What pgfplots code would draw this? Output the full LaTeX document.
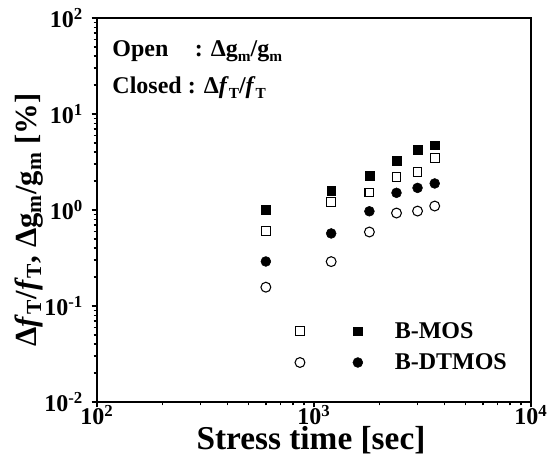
\documentclass[border=0pt]{standalone}
\usepackage{pgfplots}
\pgfplotsset{compat=1.18}
\usepackage{fontspec}
\setmainfont{Liberation Serif}
\newcommand{\sub}[1]{\raisebox{-0.45ex}{\fontsize{11.5}{12}\selectfont #1}}
\begin{document}
\begin{tikzpicture}
\begin{axis}[
  xmode=log, ymode=log,
  xmin=100, xmax=10000, ymin=0.01, ymax=100,
  scale only axis, width=325.5pt, height=288pt,
  axis line style={line width=1.6pt},
  tick align=outside, tick pos=left,
  major tick length=4pt, minor tick length=2.5pt,
  every tick/.style={line width=1.1pt, black},
  xticklabel={\pgfmathparse{int(round(\tick/ln(10)))}10\textsuperscript{\pgfmathresult}},
  yticklabel={\pgfmathparse{int(round(\tick/ln(10)))}10\textsuperscript{\pgfmathresult}},
  tick label style={font=\fontsize{18}{20}\selectfont\bfseries},
  xticklabel style={anchor=base, yshift=-13pt, inner sep=0.5pt},
  yticklabel style={xshift=-3pt},
  xlabel={Stress time [sec]},
  ylabel={Δ\textit{f}\textsubscript{T}/\textit{f}\textsubscript{T}, Δg\textsubscript{m}/g\textsubscript{m} [\%]},
  xlabel style={font=\fontsize{25}{28}\selectfont\bfseries, at={(axis description cs:0.493,0)}, anchor=base, yshift=-35.5pt, inner sep=0.5pt},
  ylabel style={font=\fontsize{23}{26}\selectfont\bfseries, at={(axis description cs:-0.14,0.474)}, anchor=base},
  legend columns=2,
  legend style={draw=none, fill=none, at={(rel axis cs:0.4465,0.065)}, anchor=south west,
    font=\fontsize{18}{20}\selectfont\bfseries, row sep=6pt,
    /tikz/column 2/.style={column sep=32pt},
    /tikz/column 3/.style={column sep=22pt}},
  legend cell align=left,
]
\addplot[only marks, mark=square, mark size=3.3pt, mark options={line width=0.8pt, black, fill=white}] coordinates {
(600,0.60) (1200,1.22) (1800,1.52) (2400,2.2) (3000,2.49) (3600,3.46)};
\addlegendentry{}
\addplot[only marks, mark=square*, mark size=3.3pt, mark options={black, fill=black}] coordinates {
(600,1.0) (1200,1.6) (1800,2.27) (2400,3.26) (3000,4.27) (3600,4.72)};
\addlegendentry{B-MOS}
\addplot[only marks, mark=o, mark size=3.7pt, mark options={line width=0.8pt, black, fill=white}] coordinates {
(600,0.157) (1200,0.29) (1800,0.59) (2400,0.93) (3000,0.975) (3600,1.10)};
\addlegendentry{}
\addplot[only marks, mark=*, mark size=3.7pt, mark options={black, fill=black}] coordinates {
(600,0.291) (1200,0.57) (1800,0.97) (2400,1.51) (3000,1.70) (3600,1.89)};
\addlegendentry{B-DTMOS}
\node[anchor=base west, inner sep=0pt, font=\fontsize{18}{20}\selectfont\bfseries] at (rel axis cs:0.035,0.8995) {Open\hspace{1.1em}: Δg\sub{m}/g\sub{m}};
\node[anchor=base west, inner sep=0pt, font=\fontsize{18}{20}\selectfont\bfseries] at (rel axis cs:0.035,0.803) {Closed : Δ\textit{f}\sub{T}/\textit{f}\sub{T}};
\end{axis}
\pgfresetboundingbox
\path ([shift={(-72.75pt,-43.5pt)}]current axis.south west) rectangle ([shift={(12.75pt,13.5pt)}]current axis.north east);
\end{tikzpicture}
\end{document}
